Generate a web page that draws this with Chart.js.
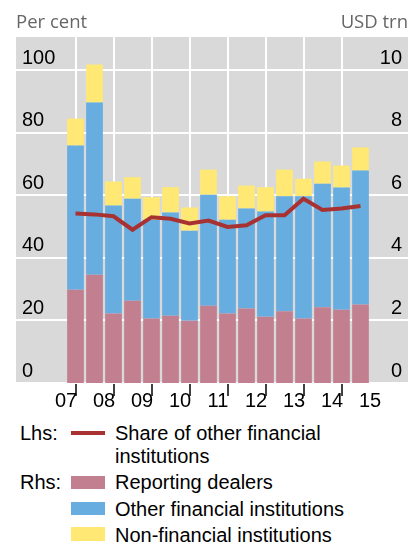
<!DOCTYPE html>
<html><head><meta charset="utf-8">
<script src="https://cdn.jsdelivr.net/npm/chart.js@4/dist/chart.umd.min.js"></script>
<style>
html,body{margin:0;padding:0;background:#fff;width:414px;height:542px;overflow:hidden;}
#wrap{position:relative;width:414px;height:542px;}
canvas{position:absolute;left:0;top:0;}
.unit{position:absolute;top:9px;font-family:'Open Sans',sans-serif;font-size:18.5px;color:#666;line-height:24px;}
.lg{position:absolute;font-family:'Liberation Sans',Arial,sans-serif;font-size:20px;color:#000;line-height:22.7px;}
.sw{position:absolute;left:71px;width:34px;}
</style></head><body>
<div id="wrap">
<canvas id="c" width="414" height="420" style="width:414px;height:420px"></canvas>
<div class="unit" style="left:16px">Per cent</div>
<div class="unit" style="right:6px">USD trn</div>
<div class="lg" style="left:20px;top:422px">Lhs:</div>
<div class="sw" style="top:431px;height:4px;background:#a83232"></div>
<div class="lg" style="left:115px;top:422px;width:280px">Share of other financial institutions</div>
<div class="lg" style="left:20px;top:471px">Rhs:</div>
<div class="sw" style="top:476px;height:13px;background:#c27f8f"></div>
<div class="lg" style="left:115px;top:471px">Reporting dealers</div>
<div class="sw" style="top:502px;height:13px;background:#68ade0"></div>
<div class="lg" style="left:115px;top:498px">Other financial institutions</div>
<div class="sw" style="top:527px;height:14px;background:#ffe873"></div>
<div class="lg" style="left:115px;top:524px">Non-financial institutions</div>
</div>
<script>
// Periods (end-June / end-December), as decimal-year positions
const periods = ['Dec 07','Jun 08','Dec 08','Jun 09','Dec 09','Jun 10','Dec 10','Jun 11','Dec 11','Jun 12','Dec 12','Jun 13','Dec 13','Jun 14','Dec 14','Jun 15'];
const periodX = [2007.75,2008.25,2008.75,2009.25,2009.75,2010.25,2010.75,2011.25,2011.75,2012.25,2012.75,2013.25,2013.75,2014.25,2014.75,2015.25];
// Rhs, USD trn
const reportingDealers = [2.98,3.46,2.22,2.63,2.06,2.15,1.99,2.47,2.22,2.38,2.12,2.29,2.06,2.42,2.34,2.51];
const otherFinancial   = [4.61,5.51,3.45,3.26,3.16,3.30,2.88,3.55,3.00,3.20,3.36,3.68,3.91,3.95,3.91,4.28];
const nonFinancial     = [0.86,1.21,0.77,0.69,0.72,0.81,0.74,0.80,0.75,0.73,0.78,0.85,0.56,0.71,0.70,0.74];
// Lhs, per cent
const shareOtherFin    = [54.2,53.9,53.3,49.0,53.0,52.5,51.0,51.9,49.9,50.4,53.6,53.6,58.9,55.3,55.8,56.6];
// Axis tick labels
const yearLabels = ['07','08','09','10','11','12','13','14','15'];
const leftTicks = [0,20,40,60,80,100];
const rightTicks = [0,2,4,6,8,10];

const firstYear = 2007;
const xTicks = [];
yearLabels.forEach((l,i)=>{ const y=firstYear+i; if(i>0) xTicks.push(y); xTicks.push(y+0.5); });
const isBoundary = v => v!==undefined && Math.abs(v-Math.round(v))<1e-6;
const tv = c => (c && c.tick) ? c.tick.value : undefined;

const pts = arr => arr.map((v,i)=>({x:periodX[i], y:v}));
const font = {family:"'Liberation Sans', Arial, sans-serif", size:20};

const bgPlugin = {id:'bg', beforeDraw(c){const a=c.chartArea,ctx=c.ctx;ctx.save();ctx.fillStyle='#d9d9d9';ctx.fillRect(a.left,a.top,a.right-a.left,a.bottom-a.top);ctx.restore();}};

new Chart(document.getElementById('c'), {
  type:'bar',
  data:{datasets:[
    {type:'line', label:'Share of other financial institutions', data:pts(shareOtherFin), yAxisID:'yL', borderColor:'#a83232', borderWidth:4, pointRadius:0, tension:0, fill:false},
    {label:'Reporting dealers', data:pts(reportingDealers), yAxisID:'yR', backgroundColor:'#c27f8f', borderWidth:0, categoryPercentage:1, barPercentage:0.88},
    {label:'Other financial institutions', data:pts(otherFinancial), yAxisID:'yR', backgroundColor:'#68ade0', borderWidth:0, categoryPercentage:1, barPercentage:0.88},
    {label:'Non-financial institutions', data:pts(nonFinancial), yAxisID:'yR', backgroundColor:'#ffe873', borderWidth:0, categoryPercentage:1, barPercentage:0.88}
  ]},
  options:{
    responsive:false, animation:false, devicePixelRatio:1,
    layout:{padding:{top:37,left:16,right:6,bottom:0}},
    plugins:{legend:{display:false}, tooltip:{enabled:false}},
    scales:{
      x:{type:'linear', min:2006.184, max:2016.5, stacked:true, offset:false,
        afterBuildTicks:s=>{s.ticks=xTicks.map(v=>({value:v}));},
        afterFit:s=>{s.height=37;},
        border:{display:false},
        grid:{drawOnChartArea:true, color:c=>isBoundary(tv(c))?'#ffffff':'rgba(0,0,0,0)', lineWidth:2,
              tickColor:c=>isBoundary(tv(c))?'#000000':'rgba(0,0,0,0)', tickLength:13, tickWidth:1.5},
        ticks:{autoSkip:false, maxRotation:0, padding:-7, color:'#000', font,
          callback:v=>isBoundary(v)?'':yearLabels[Math.floor(v)-firstYear]}
      },
      yL:{type:'linear', position:'left', min:0, max:110.6, stacked:false,
        afterBuildTicks:s=>{s.ticks=leftTicks.map(v=>({value:v}));},
        afterFit:s=>{s.width=0;},
        border:{display:false},
        grid:{color:'#ffffff', lineWidth:2, drawTicks:false},
        ticks:{mirror:true, padding:6, labelOffset:-12, color:'#000', font}
      },
      yR:{type:'linear', position:'right', min:0, max:11.06, stacked:true,
        afterBuildTicks:s=>{s.ticks=rightTicks.map(v=>({value:v}));},
        afterFit:s=>{s.width=0;},
        border:{display:false},
        grid:{display:false, drawTicks:false},
        ticks:{mirror:true, padding:-6, labelOffset:-12, color:'#000', font}
      }
    }
  },
  plugins:[bgPlugin]
});
</script>
</body></html>
